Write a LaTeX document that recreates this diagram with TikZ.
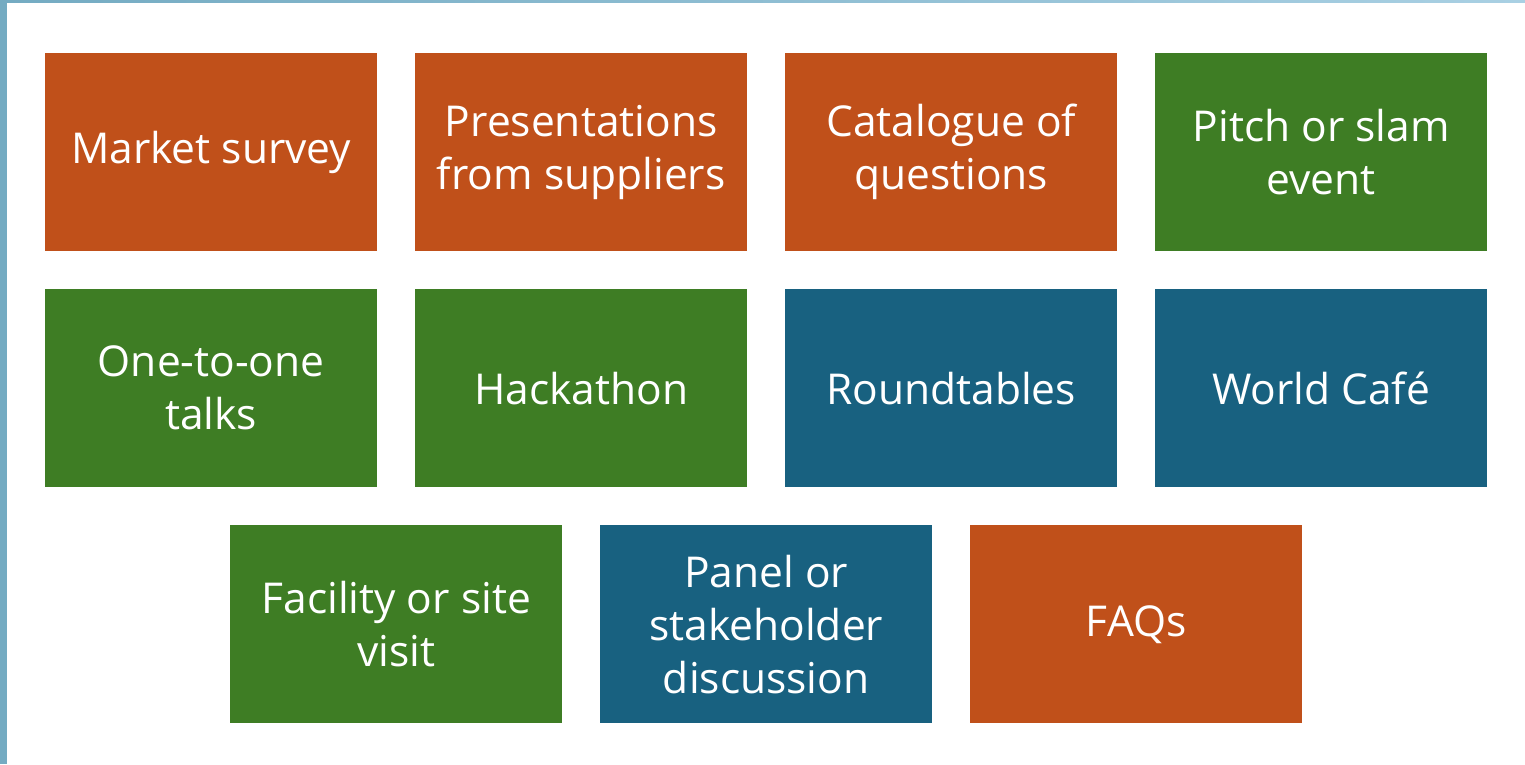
\documentclass[tikz,border=0pt]{standalone}
\usepackage{fontspec}
\setmainfont{Open Sans}
\definecolor{tileorange}{HTML}{C0501A}
\definecolor{tilegreen}{HTML}{3E7D24}
\definecolor{tileblue}{HTML}{186180}
\definecolor{edgeblue}{HTML}{74ABC2}
\definecolor{topblue}{HTML}{A9D0E3}
\begin{document}
\begin{tikzpicture}[x=1pt,y=-1pt,
  tile/.style={minimum width=332pt,minimum height=198pt,inner sep=0pt,
    align=center,text=white,font=\fontsize{42.5}{53}\selectfont,anchor=north west},
  orange/.style={tile,fill=tileorange},
  green/.style={tile,fill=tilegreen},
  blue/.style={tile,fill=tileblue}]
\useasboundingbox (0,0) rectangle (1525,764);
\fill[white] (0,0) rectangle (1525,764);
% frame accents
\fill[edgeblue] (0,0) rectangle (7,764);
\shade[left color=edgeblue,right color=topblue] (0,0) rectangle (1525,2);
% row 1
\node[orange] (ms)  at (45,53)   {Market survey};
\node[orange] (ps)  at (415,53)  {Presentations\\from suppliers};
\node[orange] (cq)  at (785,53)  {Catalogue of\\questions};
\node[green]  (pse) at (1155,53) {Pitch or slam\\event};
% row 2
\node[green]  (oto) at (45,289)  {One-to-one\\talks};
\node[green]  (hk)  at (415,289) {Hackathon};
\node[blue]   (rt)  at (785,289) {Roundtables};
\node[blue]   (wc)  at (1155,289){World Café};
% row 3
\node[green]  (fsv) at (230,525) {Facility or site\\visit};
\node[blue]   (psd) at (600,525) {Panel or\\stakeholder\\discussion};
\node[orange] (faq) at (970,525) {FAQs};
\end{tikzpicture}
\end{document}
